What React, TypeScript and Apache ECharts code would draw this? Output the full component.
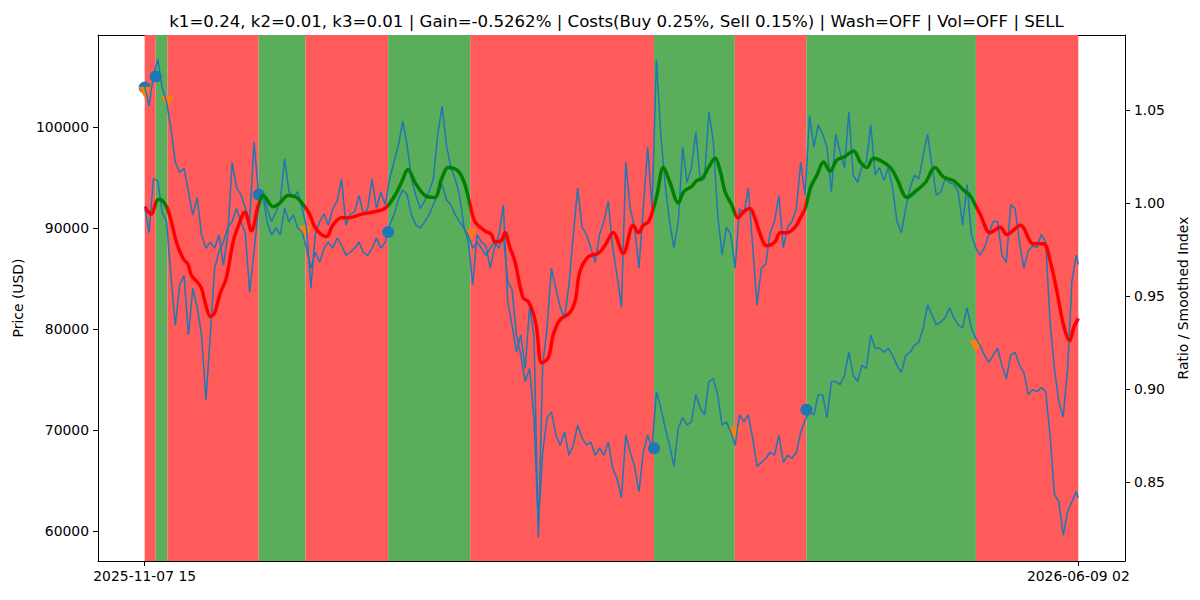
import React, { useEffect, useRef } from "react";
import * as echarts from "echarts";

// Time base: first bar of the backtest and total span in days
const START_MS = Date.UTC(2025, 10, 7, 15);
const SPAN_DAYS = 213 + 11 / 24;

// Daily close (USD), one value per day, last value at the final bar
const priceUsd = [
  104000, 102100, 105100, 106700, 103900, 102500, 99900, 96500, 95500, 95900,
  93600, 91300, 93000, 89300, 88000, 88600, 88000, 89300, 86300, 89300,
  96500, 94000, 93300, 92000, 90600, 98500, 93600, 93300, 90600, 89300,
  90000, 89300, 92000, 90600, 91300, 90000, 89600, 88000, 86000, 87600,
  86600, 88000, 88600, 88000, 89000, 88300, 87300, 87600, 88000, 88600,
  87600, 87300, 88000, 89000, 88000, 88600, 90300, 91300, 92800, 93800,
  93300, 91300, 90300, 90000, 90600, 91300, 92300, 93300, 94300, 92800,
  92300, 91300, 90600, 90000, 89300, 88000, 88600, 88000, 87300, 88000,
  88600, 88000, 89300, 84700, 83900, 79400, 77400, 74800, 76100, 71200,
  60600, 67800, 71200, 71800, 69500, 68500, 69800, 67500, 68500, 70500,
  69200, 68500, 68800, 67500, 68200, 67500, 68800, 66200, 65200, 63300,
  69500, 67800, 66400, 63900, 67800, 69500, 68200, 73800, 72200, 70200,
  68500, 66400, 70200, 71200, 70500, 70800, 73500, 72200, 71500, 74800,
  75100, 73500, 70500, 70800, 69800, 68500, 71500, 70800, 71500, 69200,
  66400, 66800, 67200, 67800, 67500, 69500, 66800, 67500, 67200, 67800,
  69800, 71000, 71800, 71500, 73500, 73500, 71200, 74800, 74800, 74500,
  75400, 77700, 75400, 74800, 76400, 76100, 79400, 78100, 78100, 77700,
  78100, 77400, 76400, 75700, 77400, 77700, 78400, 78700, 80100, 82400,
  81400, 80400, 80700, 81100, 82100, 81100, 80400, 80100, 82100, 80100,
  79100, 78400, 77400, 76700, 77400, 78100, 76400, 75100, 77400, 77700,
  76400, 75700, 73500, 74000, 73800, 74200, 73800, 69500, 63600, 62900,
  59600, 61900, 62900, 63900, 63300,
];

// Price / reference ratio, same daily grid as priceUsd
const ratioValues = [
  0.998, 0.984, 1.013, 1.012, 0.995, 0.99, 0.961, 0.934, 0.956, 0.961,
  0.929, 0.954, 0.944, 0.929, 0.894, 0.929, 0.965, 0.974, 0.979, 0.987,
  0.99, 0.997, 0.99, 0.984, 0.952, 0.974, 0.997, 1.006, 0.997, 0.99,
  0.995, 1.001, 1.024, 1.006, 1.003, 1.006, 0.997, 0.987, 0.954, 0.983,
  0.99, 0.994, 0.988, 0.997, 1.001, 1.013, 0.988, 0.994, 0.995, 1.004,
  0.994, 0.997, 1.013, 0.997, 1.006, 0.999, 1.013, 1.022, 1.031, 1.044,
  1.031, 1.013, 1.004, 0.997, 1.001, 1.006, 1.013, 1.037, 1.052, 1.031,
  1.019, 1.013, 1.004, 0.987, 0.979, 0.956, 0.983, 0.979, 0.977, 0.965,
  0.976, 0.983, 0.999, 0.947, 0.934, 0.92, 0.929, 0.911, 0.944, 0.929,
  0.82, 0.913, 0.933, 0.965, 0.954, 0.944, 0.938, 0.956, 0.983, 1.008,
  0.987, 0.983, 0.976, 0.968, 0.983, 0.99, 1.001, 0.976, 0.961, 0.944,
  1.022, 0.997, 0.987, 0.965, 0.997, 1.03, 0.997, 1.077, 1.037, 1.01,
  0.99, 0.976, 0.99, 1.03, 1.011, 1.019, 1.038, 1.013, 1.013, 1.049,
  1.033, 0.994, 0.972, 0.987, 0.983, 0.965, 0.997, 0.994, 1.008, 0.977,
  0.945, 0.965, 0.967, 0.984, 0.99, 1.004, 0.976, 0.987, 0.99, 0.997,
  1.022, 1.004, 1.047, 1.03, 1.042, 1.037, 1.03, 1.006, 1.037, 1.027,
  1.019, 1.049, 1.015, 1.011, 1.02, 1.022, 1.042, 1.015, 1.019, 1.012,
  1.019, 1.008, 0.99, 0.984, 0.997, 1.008, 1.015, 1.013, 1.026, 1.037,
  1.02, 1.004, 1.006, 1.013, 1.011, 1.01, 1.006, 0.988, 1.01, 0.983,
  0.976, 0.972, 0.976, 0.983, 0.99, 0.99, 0.972, 0.968, 0.999, 0.997,
  0.979, 0.965, 0.974, 0.977, 0.976, 0.983, 0.979, 0.936, 0.911, 0.893,
  0.885, 0.911, 0.958, 0.972, 0.967,
];

// Smoothed index, sampled at the listed day offsets
const smoothDays = [
  0, 1.5, 2.7, 3.4, 5, 6.1, 7.25, 8.8, 9.9, 10.7, 12.2, 13, 14.1, 15, 16, 17.2,
  18.7, 20.2, 21.3, 22.9, 24.4, 25.9, 27.1, 29.4, 30.9, 32.8, 34.7, 36.6, 37.7,
  38.9, 40.4, 41.6, 43, 45, 46.5, 49.6, 51.9, 54.9, 57.2, 58.7, 60.2, 61.8, 64.1,
  66.3, 67.9, 69.4, 71.7, 73.2, 74.4, 75.5, 77.8, 79.3, 80.1, 81.6, 82.4, 83.5,
  84.6, 86.5, 87.7, 88.8, 89.6, 90.8, 92.3, 93.4, 94.9, 97.2, 98.4, 99.5, 101.4,
  103.7, 105.2, 107.1, 109.4, 111.7, 112.9, 114, 115.2, 116.3, 117.1, 118.6,
  120.1, 122, 123.2, 125.1, 126.2, 127.4, 128.9, 130.4, 131.6, 132.7, 134.2,
  135.7, 136.8, 138.4, 139.5, 140.6, 142.2, 144.1, 145.3, 146.8, 148.7, 149.9,
  151, 152.2, 153.7, 155.2, 156.7, 158.2, 160.1, 162.1, 163.6, 165.1, 166.6,
  168.1, 170.5, 172, 174.3, 176.6, 178.5, 180.7, 182.6, 184.9, 187.2, 188.7,
  189.9, 191, 193.3, 195.6, 197.1, 200.2, 203.2, 205.5, 207.1, 208.6, 210.1,
  211.5, 212.4, 213.46,
];
const smoothIndex = [
  0.998, 0.994, 1.001, 1.002, 0.998, 0.99, 0.979, 0.97, 0.967, 0.961, 0.957,
  0.954, 0.944, 0.939, 0.941, 0.951, 0.96, 0.979, 0.987, 0.995, 0.985, 0.998,
  1.004, 0.998, 1.0, 1.004, 1.003, 0.998, 0.994, 0.987, 0.983, 0.982, 0.988,
  0.992, 0.992, 0.994, 0.995, 0.997, 1.004, 1.011, 1.018, 1.011, 1.004, 1.003,
  1.013, 1.019, 1.017, 1.01, 0.999, 0.99, 0.985, 0.983, 0.979, 0.98, 0.984,
  0.976, 0.969, 0.949, 0.947, 0.941, 0.933, 0.914, 0.917, 0.929, 0.937, 0.941,
  0.947, 0.963, 0.971, 0.973, 0.977, 0.984, 0.973, 0.988, 0.984, 0.988, 0.99,
  0.997, 1.004, 1.019, 1.011, 1.0, 1.006, 1.009, 1.012, 1.013, 1.019, 1.024,
  1.017, 1.006, 0.999, 0.992, 0.995, 0.997, 0.992, 0.984, 0.977, 0.979, 0.984,
  0.984, 0.987, 0.992, 0.997, 1.008, 1.015, 1.022, 1.017, 1.023, 1.025, 1.028,
  1.022, 1.019, 1.024, 1.023, 1.019, 1.013, 1.003, 1.007, 1.011, 1.019, 1.014,
  1.012, 1.007, 1.004, 0.999, 0.994, 0.984, 0.987, 0.983, 0.988, 0.978, 0.978,
  0.968, 0.952, 0.934, 0.926, 0.933, 0.938,
];

// Long-position periods [entry day, exit day]; everything else is flat/short
const longPeriods = [
  [2.52, 5.19],
  [26.08, 36.76],
  [55.66, 74.42],
  [116.45, 134.91],
  [151.29, 190.05],
];

// Trade markers: [day, price]
const buyMarkers = [
  [0, 103900],
  [2.52, 105000],
  [26.08, 93300],
  [55.66, 89600],
  [116.45, 68200],
  [151.29, 72000],
];
const sellMarkers = [
  [0.1, 103400],
  [5.19, 102500],
  [36.76, 89600],
  [74.42, 89300],
  [134.91, 69700],
  [190.05, 78300],
];

const priceTicks = [60000, 70000, 80000, 90000, 100000];
const ratioTicks = [0.85, 0.9, 0.95, 1.0, 1.05];
const dateTicks = [0, SPAN_DAYS];

const TITLE =
  "k1=0.24, k2=0.01, k3=0.01 | Gain=-0.5262% | Costs(Buy 0.25%, Sell 0.15%) | Wash=OFF | Vol=OFF | SELL";

const RED_BAND = "#ff5b5b";
const GREEN_BAND = "#5aad5a";
const LINE_BLUE = "#1f77b4";
const FONT = "DejaVu Sans";

function dayX(i: number): number {
  return Math.min(i, SPAN_DAYS);
}

function formatDay(v: number): string {
  const d = new Date(START_MS + Math.round(v * 24) * 3600 * 1000);
  const p = (n: number) => String(n).padStart(2, "0");
  return `${d.getUTCFullYear()}-${p(d.getUTCMonth() + 1)}-${p(d.getUTCDate())} ${p(d.getUTCHours())}`;
}

function buildBands(): number[][] {
  const out: number[][] = [];
  let cursor = 0;
  for (const [a, b] of longPeriods) {
    if (a > cursor) out.push([cursor, a, 0]);
    out.push([a, b, 1]);
    cursor = b;
  }
  if (cursor < SPAN_DAYS) out.push([cursor, SPAN_DAYS, 0]);
  return out;
}

export default function App() {
  const ref = useRef<HTMLDivElement>(null);

  useEffect(() => {
    if (!ref.current) return;
    const chart = echarts.init(ref.current, undefined, { renderer: "svg" });
    const bands = buildBands();
    const pieces = bands.map((b, i) =>
      i === bands.length - 1
        ? { gte: b[0], lte: b[1] + 1, color: b[2] ? "#008000" : "#ff0000" }
        : { gte: b[0], lt: b[1], color: b[2] ? "#008000" : "#ff0000" }
    );

    const xMin = -0.05 * SPAN_DAYS;
    const xMax = 1.05 * SPAN_DAYS;
    const labelStyle = { fontFamily: FONT, fontSize: 13.9, color: "#000" };

    chart.setOption({
      animation: false,
      backgroundColor: "#fff",
      textStyle: { fontFamily: FONT },
      title: {
        text: TITLE,
        left: 611.5,
        top: 8,
        textAlign: "center",
        textStyle: { fontFamily: FONT, fontSize: 16.6, fontWeight: "normal", color: "#000" },
      },
      grid: { left: 98, right: 75, top: 35, bottom: 39, containLabel: false },
      xAxis: [
        {
          type: "value",
          min: xMin,
          max: xMax,
          axisLine: { show: true, onZero: false, lineStyle: { color: "#000", width: 1 } },
          axisTick: { show: true, length: 5, lineStyle: { color: "#000" }, customValues: dateTicks },
          axisLabel: { ...labelStyle, margin: 8, customValues: dateTicks, formatter: (v: number) => formatDay(v) },
          splitLine: { show: false },
        },
        {
          type: "value",
          position: "top",
          min: xMin,
          max: xMax,
          axisLine: { show: true, onZero: false, lineStyle: { color: "#000", width: 1 } },
          axisTick: { show: false },
          axisLabel: { show: false },
          splitLine: { show: false },
        },
      ],
      yAxis: [
        {
          type: "value",
          min: 57030,
          max: 109110,
          position: "left",
          name: "Price (USD)",
          nameLocation: "middle",
          nameGap: 62,
          nameTextStyle: labelStyle,
          axisLine: { show: true, onZero: false, lineStyle: { color: "#000", width: 1 } },
          axisTick: { show: true, length: 5, lineStyle: { color: "#000" }, customValues: priceTicks },
          axisLabel: { ...labelStyle, margin: 9, customValues: priceTicks, formatter: (v: number) => String(v) },
          splitLine: { show: false },
        },
        {
          type: "value",
          min: 0.8075,
          max: 1.0903,
          position: "right",
          name: "Ratio / Smoothed Index",
          nameLocation: "middle",
          nameGap: 42,
          nameRotate: 90,
          nameTextStyle: labelStyle,
          axisLine: { show: true, onZero: false, lineStyle: { color: "#000", width: 1 } },
          axisTick: { show: true, length: 5, lineStyle: { color: "#000" }, customValues: ratioTicks },
          axisLabel: { ...labelStyle, margin: 9, customValues: ratioTicks, formatter: (v: number) => v.toFixed(2) },
          splitLine: { show: false },
        },
      ],
      visualMap: {
        type: "piecewise",
        show: false,
        seriesIndex: 5,
        dimension: 0,
        pieces,
      },
      series: [
        {
          type: "custom",
          name: "position",
          xAxisIndex: 0,
          yAxisIndex: 0,
          z: 1,
          silent: true,
          encode: { x: [0, 1] },
          data: bands,
          renderItem: (params: any, api: any) => {
            const x0 = api.coord([api.value(0), 80000])[0];
            const x1 = api.coord([api.value(1), 80000])[0];
            const cs = params.coordSys;
            return {
              type: "rect",
              shape: { x: x0, y: cs.y, width: x1 - x0, height: cs.height },
              style: { fill: api.value(2) ? GREEN_BAND : RED_BAND },
            };
          },
        },
        {
          type: "scatter",
          name: "buy",
          xAxisIndex: 0,
          yAxisIndex: 0,
          z: 3,
          symbol: "circle",
          symbolSize: 12,
          itemStyle: { color: LINE_BLUE, opacity: 1 },
          data: buyMarkers,
        },
        {
          type: "scatter",
          name: "sell",
          xAxisIndex: 0,
          yAxisIndex: 0,
          z: 4,
          symbol: "triangle",
          symbolRotate: 180,
          symbolSize: [13, 12],
          itemStyle: { color: "#ff7f0e", opacity: 1 },
          data: sellMarkers,
        },
        {
          type: "line",
          name: "price",
          xAxisIndex: 0,
          yAxisIndex: 0,
          z: 5,
          showSymbol: false,
          symbol: "none",
          lineStyle: { color: LINE_BLUE, width: 1.5 },
          data: priceUsd.map((v, i) => [dayX(i), v]),
        },
        {
          type: "line",
          name: "ratio",
          xAxisIndex: 0,
          yAxisIndex: 1,
          z: 6,
          showSymbol: false,
          symbol: "none",
          lineStyle: { color: LINE_BLUE, width: 1.5 },
          data: ratioValues.map((v, i) => [dayX(i), v]),
        },
        {
          type: "line",
          name: "smoothed",
          xAxisIndex: 0,
          yAxisIndex: 1,
          z: 7,
          showSymbol: false,
          symbol: "none",
          smooth: 0.35,
          lineStyle: { width: 3.5 },
          data: smoothIndex.map((v, i) => [smoothDays[i], v]),
        },
      ],
    });
    return () => chart.dispose();
  }, []);

  return (
    <div
      ref={ref}
      style={{ position: "fixed", left: 0, top: 0, width: 1200, height: 600, background: "#fff" }}
    />
  );
}
